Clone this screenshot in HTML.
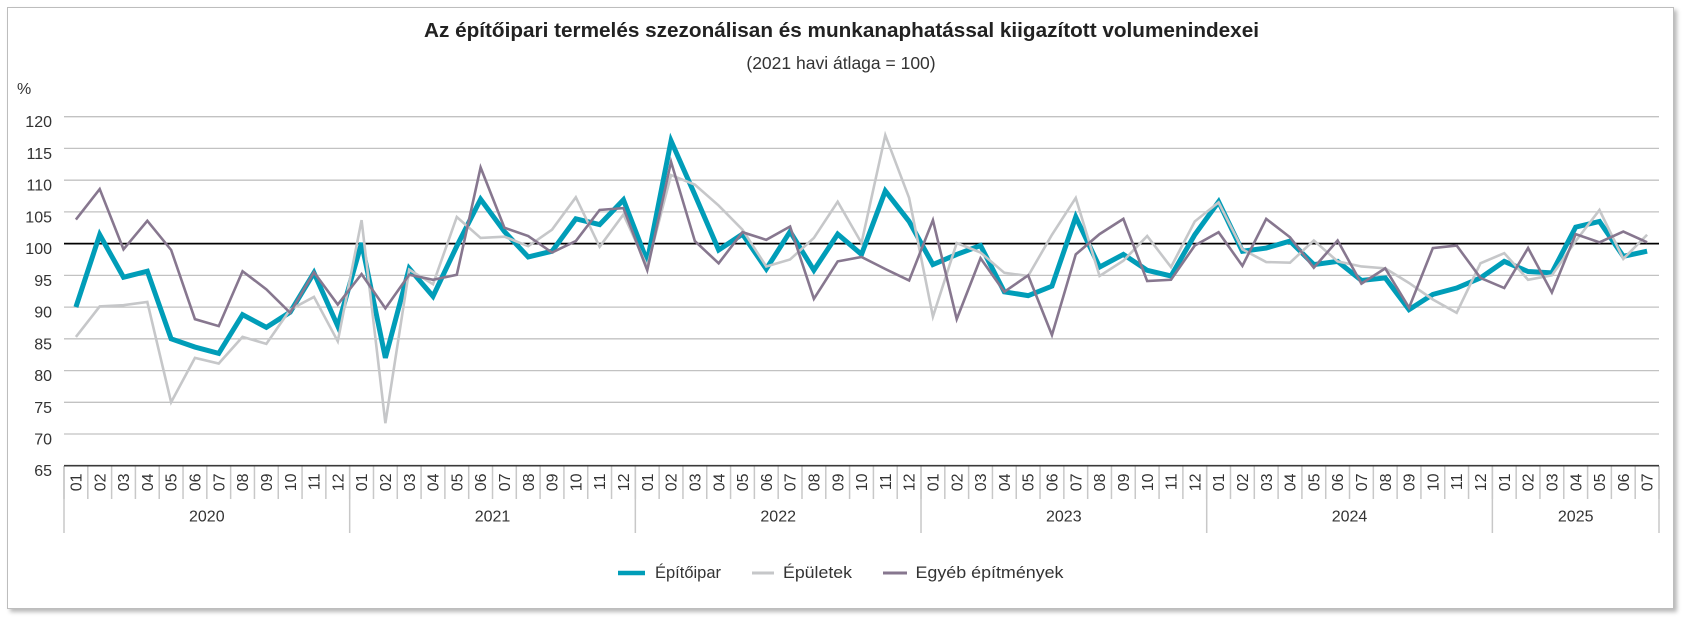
<!DOCTYPE html>
<html>
<head>
<meta charset="utf-8">
<style>
  html,body{margin:0;padding:0;background:#fff;}
  body{width:1684px;height:617px;position:relative;overflow:hidden;font-family:"Liberation Sans",Arial,sans-serif;}
  .box{position:absolute;left:7px;top:7px;width:1665px;height:600px;border:1px solid #bdbdbd;background:#fff;box-shadow:3px 3px 4px rgba(0,0,0,0.28);}
  svg{position:absolute;left:0;top:0;}
  text{font-family:"Liberation Sans",Arial,sans-serif;fill:#333;}
</style>
</head>
<body>
<div class="box"></div>
<svg width="1684" height="617" viewBox="0 0 1684 617" xmlns="http://www.w3.org/2000/svg">
  <!-- Title -->
  <text x="424" y="37" font-size="20" font-weight="bold" fill="#222" style="fill:#222" textLength="835" lengthAdjust="spacingAndGlyphs">Az építőipari termelés szezonálisan és munkanaphatással kiigazított volumenindexei</text>
  <text x="841" y="69" font-size="17.5" text-anchor="middle">(2021 havi átlaga = 100)</text>
  <text x="17" y="94" font-size="16">%</text>

  <!-- Gridlines -->
  <g stroke="#c2c2c2" stroke-width="1.3">
    <line x1="64" y1="116.7" x2="1659" y2="116.7"/>
    <line x1="64" y1="148.4" x2="1659" y2="148.4"/>
    <line x1="64" y1="180.2" x2="1659" y2="180.2"/>
    <line x1="64" y1="211.9" x2="1659" y2="211.9"/>
    <line x1="64" y1="275.4" x2="1659" y2="275.4"/>
    <line x1="64" y1="307.1" x2="1659" y2="307.1"/>
    <line x1="64" y1="338.8" x2="1659" y2="338.8"/>
    <line x1="64" y1="370.6" x2="1659" y2="370.6"/>
    <line x1="64" y1="402.3" x2="1659" y2="402.3"/>
    <line x1="64" y1="434.0" x2="1659" y2="434.0"/>
  </g>
  <line x1="64" y1="243.6" x2="1659" y2="243.6" stroke="#000" stroke-width="1.7"/>

  <!-- Y labels -->
  <g font-size="16" text-anchor="end">
    <text x="52" y="127.2">120</text>
    <text x="52" y="158.9">115</text>
    <text x="52" y="190.7">110</text>
    <text x="52" y="222.4">105</text>
    <text x="52" y="254.1">100</text>
    <text x="52" y="285.9">95</text>
    <text x="52" y="317.6">90</text>
    <text x="52" y="349.3">85</text>
    <text x="52" y="381.1">80</text>
    <text x="52" y="412.8">75</text>
    <text x="52" y="444.5">70</text>
    <text x="52" y="476.2">65</text>
  </g>

  <!-- Month ticks -->
  <line x1="63.25" y1="482.5" x2="1661" y2="482.5" stroke="#c8c8c8" stroke-width="33" stroke-dasharray="1.5 22.306"/>
  <!-- Year separators -->
  <line x1="63.25" y1="499.5" x2="1500" y2="499.5" stroke="#c8c8c8" stroke-width="67" stroke-dasharray="1.5 284.172"/>
  <line x1="1659" y1="466" x2="1659" y2="533" stroke="#c8c8c8" stroke-width="1.5"/>

  <!-- Axis -->
  <line x1="64" y1="465.7" x2="1659" y2="465.7" stroke="#3a3a3a" stroke-width="1.6"/>

  <!-- Month labels -->
  <g font-size="16" text-anchor="end">
    <text transform="translate(81.5,473.5) rotate(-90)">01</text>
    <text transform="translate(105.3,473.5) rotate(-90)">02</text>
    <text transform="translate(129.1,473.5) rotate(-90)">03</text>
    <text transform="translate(152.9,473.5) rotate(-90)">04</text>
    <text transform="translate(176.7,473.5) rotate(-90)">05</text>
    <text transform="translate(200.5,473.5) rotate(-90)">06</text>
    <text transform="translate(224.3,473.5) rotate(-90)">07</text>
    <text transform="translate(248.1,473.5) rotate(-90)">08</text>
    <text transform="translate(271.9,473.5) rotate(-90)">09</text>
    <text transform="translate(295.8,473.5) rotate(-90)">10</text>
    <text transform="translate(319.6,473.5) rotate(-90)">11</text>
    <text transform="translate(343.4,473.5) rotate(-90)">12</text>
    <text transform="translate(367.2,473.5) rotate(-90)">01</text>
    <text transform="translate(391.0,473.5) rotate(-90)">02</text>
    <text transform="translate(414.8,473.5) rotate(-90)">03</text>
    <text transform="translate(438.6,473.5) rotate(-90)">04</text>
    <text transform="translate(462.4,473.5) rotate(-90)">05</text>
    <text transform="translate(486.2,473.5) rotate(-90)">06</text>
    <text transform="translate(510.0,473.5) rotate(-90)">07</text>
    <text transform="translate(533.8,473.5) rotate(-90)">08</text>
    <text transform="translate(557.6,473.5) rotate(-90)">09</text>
    <text transform="translate(581.4,473.5) rotate(-90)">10</text>
    <text transform="translate(605.2,473.5) rotate(-90)">11</text>
    <text transform="translate(629.0,473.5) rotate(-90)">12</text>
    <text transform="translate(652.8,473.5) rotate(-90)">01</text>
    <text transform="translate(676.7,473.5) rotate(-90)">02</text>
    <text transform="translate(700.5,473.5) rotate(-90)">03</text>
    <text transform="translate(724.3,473.5) rotate(-90)">04</text>
    <text transform="translate(748.1,473.5) rotate(-90)">05</text>
    <text transform="translate(771.9,473.5) rotate(-90)">06</text>
    <text transform="translate(795.7,473.5) rotate(-90)">07</text>
    <text transform="translate(819.5,473.5) rotate(-90)">08</text>
    <text transform="translate(843.3,473.5) rotate(-90)">09</text>
    <text transform="translate(867.1,473.5) rotate(-90)">10</text>
    <text transform="translate(890.9,473.5) rotate(-90)">11</text>
    <text transform="translate(914.7,473.5) rotate(-90)">12</text>
    <text transform="translate(938.5,473.5) rotate(-90)">01</text>
    <text transform="translate(962.3,473.5) rotate(-90)">02</text>
    <text transform="translate(986.1,473.5) rotate(-90)">03</text>
    <text transform="translate(1009.9,473.5) rotate(-90)">04</text>
    <text transform="translate(1033.7,473.5) rotate(-90)">05</text>
    <text transform="translate(1057.5,473.5) rotate(-90)">06</text>
    <text transform="translate(1081.4,473.5) rotate(-90)">07</text>
    <text transform="translate(1105.2,473.5) rotate(-90)">08</text>
    <text transform="translate(1129.0,473.5) rotate(-90)">09</text>
    <text transform="translate(1152.8,473.5) rotate(-90)">10</text>
    <text transform="translate(1176.6,473.5) rotate(-90)">11</text>
    <text transform="translate(1200.4,473.5) rotate(-90)">12</text>
    <text transform="translate(1224.2,473.5) rotate(-90)">01</text>
    <text transform="translate(1248.0,473.5) rotate(-90)">02</text>
    <text transform="translate(1271.8,473.5) rotate(-90)">03</text>
    <text transform="translate(1295.6,473.5) rotate(-90)">04</text>
    <text transform="translate(1319.4,473.5) rotate(-90)">05</text>
    <text transform="translate(1343.2,473.5) rotate(-90)">06</text>
    <text transform="translate(1367.0,473.5) rotate(-90)">07</text>
    <text transform="translate(1390.8,473.5) rotate(-90)">08</text>
    <text transform="translate(1414.6,473.5) rotate(-90)">09</text>
    <text transform="translate(1438.4,473.5) rotate(-90)">10</text>
    <text transform="translate(1462.2,473.5) rotate(-90)">11</text>
    <text transform="translate(1486.1,473.5) rotate(-90)">12</text>
    <text transform="translate(1509.9,473.5) rotate(-90)">01</text>
    <text transform="translate(1533.7,473.5) rotate(-90)">02</text>
    <text transform="translate(1557.5,473.5) rotate(-90)">03</text>
    <text transform="translate(1581.3,473.5) rotate(-90)">04</text>
    <text transform="translate(1605.1,473.5) rotate(-90)">05</text>
    <text transform="translate(1628.9,473.5) rotate(-90)">06</text>
    <text transform="translate(1652.7,473.5) rotate(-90)">07</text>
  </g>

  <!-- Year labels -->
  <g font-size="16" text-anchor="middle">
    <text x="206.8" y="521.5">2020</text>
    <text x="492.5" y="521.5">2021</text>
    <text x="778.2" y="521.5">2022</text>
    <text x="1063.8" y="521.5">2023</text>
    <text x="1349.5" y="521.5">2024</text>
    <text x="1575.7" y="521.5">2025</text>
  </g>

  <!-- Series -->
  <g transform="matrix(23.806 0 0 -6.345 75.903 878.125)" fill="none" stroke-linejoin="miter">
    <polyline vector-effect="non-scaling-stroke" stroke="#009db8" stroke-width="5" points="0,90.0 1,101.4 2,94.7 3,95.65 4,85.0 5,83.7 6,82.7 7,88.8 8,86.8 9,89.2 10,95.4 11,87.0 12,100.1 13,82.0 14,96.1 15,91.7 16,99.6 17,107.0 18,101.9 19,97.9 20,98.8 21,103.9 22,103.0 23,106.9 24,97.2 25,116.2 26,107.7 27,99.0 28,101.5 29,96.0 30,101.9 31,95.8 32,101.5 33,98.3 34,108.3 35,103.5 36,96.7 37,98.3 38,99.7 39,92.4 40,91.8 41,93.3 42,104.2 43,96.3 44,98.3 45,95.8 46,94.9 47,101.4 48,106.6 49,98.8 50,99.3 51,100.4 52,96.7 53,97.2 54,94.2 55,94.6 56,89.6 57,92.0 58,93.0 59,94.6 60,97.2 61,95.6 62,95.4 63,102.6 64,103.5 65,98.0 66,98.8"/>
    <polyline vector-effect="non-scaling-stroke" stroke="#c6c7c9" stroke-width="2.6" points="0,85.3 1,90.1 2,90.3 3,90.8 4,75.0 5,82.0 6,81.1 7,85.3 8,84.2 9,89.6 10,91.6 11,84.6 12,103.7 13,71.7 14,95.9 15,93.6 16,104.2 17,100.9 18,101.1 19,99.6 20,102.2 21,107.3 22,99.5 23,104.6 24,96.4 25,110.8 26,109.3 27,106.0 28,102.2 29,96.4 30,97.5 31,100.9 32,106.6 33,100.1 34,117.1 35,107.2 36,88.5 37,100.1 38,98.6 39,95.4 40,94.9 41,101.4 42,107.2 43,94.9 44,97.3 45,101.2 46,96.3 47,103.5 48,106.5 49,99.1 50,97.1 51,97.0 52,100.5 53,97.2 54,96.4 55,96.1 56,93.8 57,91.2 58,89.1 59,96.9 60,98.5 61,94.3 62,95.0 63,100.4 64,105.3 65,97.6 66,101.4"/>
    <polyline vector-effect="non-scaling-stroke" stroke="#87778f" stroke-width="2.6" points="0,103.8 1,108.6 2,99.1 3,103.6 4,99.0 5,88.1 6,87.0 7,95.65 8,92.8 9,89.1 10,95.5 11,90.4 12,95.2 13,89.8 14,95.1 15,94.3 16,95.1 17,112.0 18,102.5 19,101.2 20,98.6 21,100.4 22,105.3 23,105.6 24,95.8 25,112.9 26,100.4 27,96.9 28,101.8 29,100.6 30,102.7 31,91.3 32,97.2 33,97.9 34,96.0 35,94.2 36,103.7 37,88.1 38,97.7 39,92.4 40,95.0 41,85.6 42,98.3 43,101.5 44,103.9 45,94.1 46,94.3 47,99.7 48,101.8 49,96.5 50,103.9 51,101.0 52,96.2 53,100.5 54,93.7 55,96.1 56,89.9 57,99.3 58,99.7 59,94.6 60,93.0 61,99.3 62,92.3 63,101.5 64,100.2 65,101.9 66,100.2"/>
  </g>

  <!-- Legend -->
  <line x1="618" y1="573" x2="645" y2="573" stroke="#009db8" stroke-width="4.5"/>
  <text x="655" y="578" font-size="17" textLength="66" lengthAdjust="spacingAndGlyphs">Építőipar</text>
  <line x1="752" y1="573" x2="774" y2="573" stroke="#c6c7c9" stroke-width="3"/>
  <text x="783" y="578" font-size="17" textLength="69" lengthAdjust="spacingAndGlyphs">Épületek</text>
  <line x1="883" y1="573" x2="907" y2="573" stroke="#87778f" stroke-width="3"/>
  <text x="915.5" y="578" font-size="17" textLength="148" lengthAdjust="spacingAndGlyphs">Egyéb építmények</text>
</svg>
</body>
</html>
